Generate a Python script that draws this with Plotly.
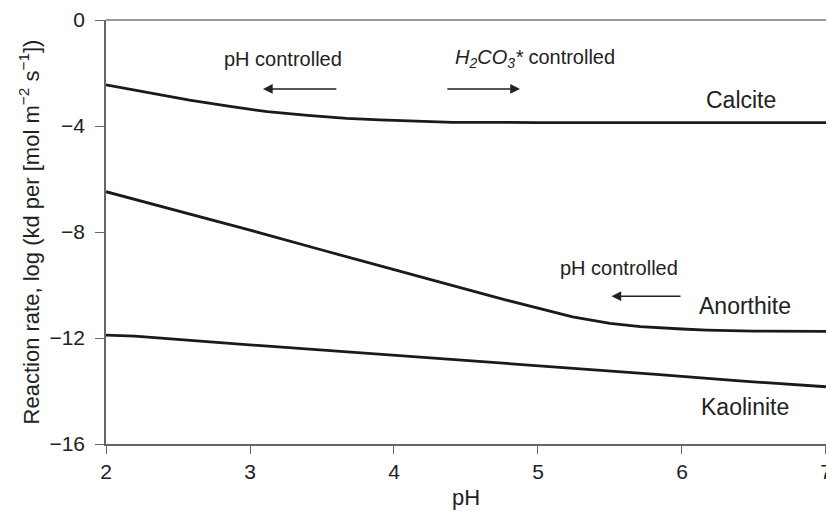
import plotly.graph_objects as go

ph_calcite = [2.0, 2.3, 2.58, 2.85, 3.12, 3.4, 3.67, 3.9, 4.09, 4.41, 5.0, 6.0, 7.0]
calcite = [-2.45, -2.75, -3.02, -3.25, -3.46, -3.6, -3.71, -3.77, -3.81, -3.86, -3.87, -3.87, -3.87]

ph_anorthite = [2.0, 2.5, 3.0, 3.5, 4.0, 4.32, 4.46, 4.78, 5.0, 5.24, 5.5, 5.71, 6.0, 6.17, 6.5, 7.0]
anorthite = [-6.48, -7.2, -7.93, -8.68, -9.42, -9.92, -10.1, -10.57, -10.88, -11.2, -11.45, -11.57, -11.66, -11.7, -11.74, -11.75]

ph_kaolinite = [2.0, 2.2, 2.7, 3.24, 3.73, 4.37, 4.85, 5.33, 5.82, 6.4, 7.0]
kaolinite = [-11.89, -11.93, -12.14, -12.35, -12.54, -12.79, -12.98, -13.18, -13.37, -13.62, -13.84]

x_ticks = [2, 3, 4, 5, 6, 7]
y_ticks = [0, -4, -8, -12, -16]

FONT = "Liberation Sans, Arial, sans-serif"

fig = go.Figure()
for xs, ys in [(ph_calcite, calcite), (ph_anorthite, anorthite), (ph_kaolinite, kaolinite)]:
    fig.add_trace(go.Scatter(x=xs, y=ys, mode="lines",
                             line=dict(color="#1a1a1a", width=2.8),
                             showlegend=False, hoverinfo="skip"))

labels = [
    dict(x=3.23, y=-1.47, text="pH controlled", size=20),
    dict(x=4.98, y=-1.47, text="<i>H<sub>2</sub>CO<sub>3</sub>*</i> controlled", size=20),
    dict(x=5.56, y=-9.36, text="pH controlled", size=20),
    dict(x=6.41, y=-3.02, text="Calcite", size=23),
    dict(x=6.44, y=-10.8, text="Anorthite", size=23),
    dict(x=6.44, y=-14.6, text="Kaolinite", size=23),
]
for a in labels:
    fig.add_annotation(x=a["x"], y=a["y"], text=a["text"], showarrow=False,
                       font=dict(family=FONT, size=a["size"], color="#222"))

arrows = [(3.09, 3.61, -2.6), (4.875, 4.36, -2.6), (5.51, 6.0, -10.42)]
for head, tail, yy in arrows:
    fig.add_annotation(x=head, y=yy, ax=tail, ay=yy, xref="x", yref="y",
                       axref="x", ayref="y", text="", showarrow=True,
                       arrowhead=2, arrowsize=1.3, arrowwidth=1.5, arrowcolor="#222")

fig.update_layout(
    width=826, height=517,
    margin=dict(l=106, r=0, t=20, b=73),
    plot_bgcolor="white", paper_bgcolor="white",
    font=dict(family=FONT, color="#222"),
)
fig.update_xaxes(range=[2, 7.0001], tickvals=x_ticks, ticktext=[str(v) for v in x_ticks],
                 automargin=False, ticklabeloverflow="allow",
                 showgrid=False, zeroline=False, showline=True, linecolor="#666",
                 linewidth=1.5, ticks="outside", ticklen=8, tickcolor="#666",
                 tickfont=dict(size=21), title=dict(text="pH", font=dict(size=22), standoff=8))
fig.update_yaxes(range=[-16, 0], tickvals=y_ticks,
                 ticktext=["0", "\u22124", "\u22128", "\u221212", "\u221216"],
                 automargin=False, ticklabelstandoff=6,
                 showgrid=False, zeroline=True, zerolinecolor="#999", zerolinewidth=1.5,
                 showline=True, linecolor="#666",
                 linewidth=1.5, ticks="outside", ticklen=9, tickcolor="#666",
                 tickfont=dict(size=21),
                 title=dict(text="Reaction rate, log (kd per [mol m<sup>\u22122</sup> s<sup>\u22121</sup>])",
                            font=dict(size=22), standoff=4))

fig.write_html("out.html", config={"displayModeBar": False},
               post_script="document.body.style.margin='0';document.body.style.overflow='hidden';")
